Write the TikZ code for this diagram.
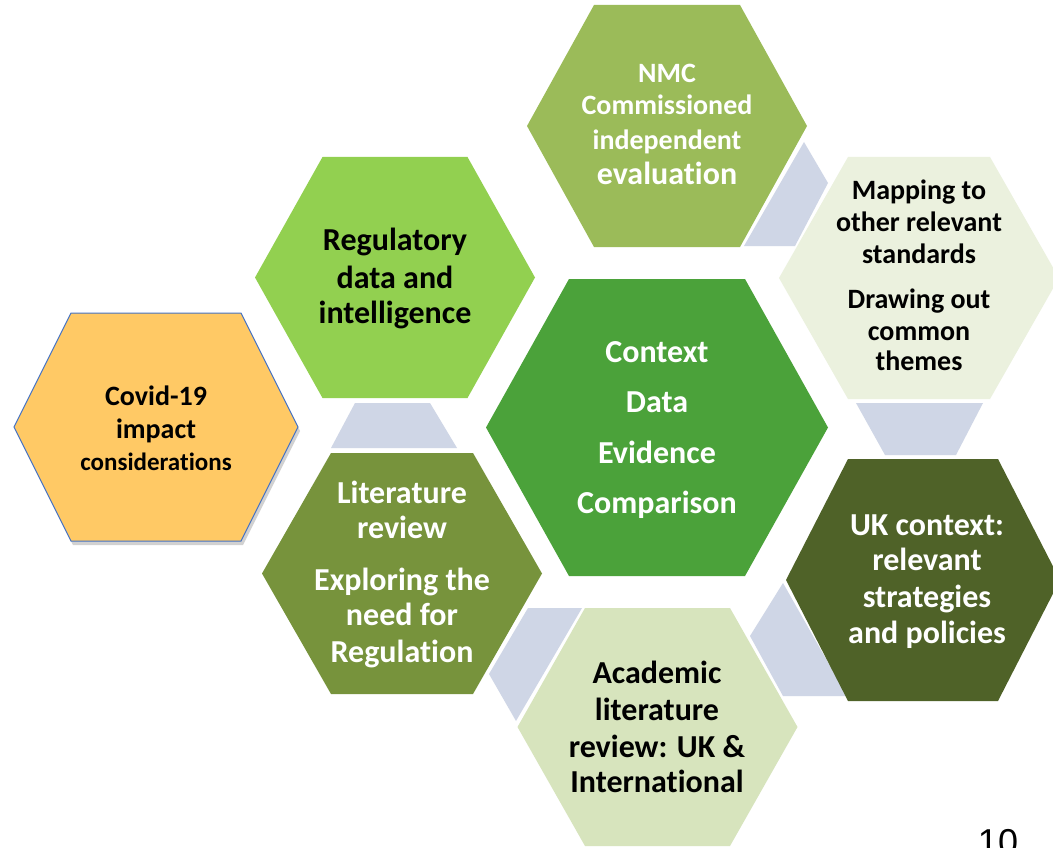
\documentclass[tikz,border=0pt]{standalone}
\usepackage{fontspec}
\setmainfont{Carlito}[Ligatures={NoCommon}]
\newfontfamily\arialfont{Liberation Sans}
\definecolor{covidc}{HTML}{FFC965}
\definecolor{covidb}{HTML}{4472C4}
\definecolor{nmcc}{HTML}{9BBB59}
\definecolor{regc}{HTML}{92D050}
\definecolor{centc}{HTML}{4BA23A}
\definecolor{mapc}{HTML}{EBF1DE}
\definecolor{ukc}{HTML}{4F6228}
\definecolor{litc}{HTML}{77933C}
\definecolor{acac}{HTML}{D7E4BD}
\definecolor{conc}{HTML}{CFD6E6}
\newcommand{\hexat}[5]{(#1-#3,#2) -- (#1-#4,#2-#5) -- (#1+#4,#2-#5) -- (#1+#3,#2) -- (#1+#4,#2+#5) -- (#1-#4,#2+#5) -- cycle}
\begin{document}
\begin{tikzpicture}[x=1pt,y=-1pt,
  tl/.style={anchor=base,inner sep=0pt,font=\bfseries\fontsize{#1}{#1}\selectfont},
  wt/.style={tl=#1,text=white},
  bt/.style={tl=#1,text=black},
  conn/.style={fill=conc}]
\useasboundingbox (0,0) rectangle (1053,848);
\clip (0,0) rectangle (1053,848);
\fill[white] (0,0) rectangle (1053,848);
% connectors
\fill[conn] (804,142) -- (828,183) -- (795,246) -- (744,246) -- cycle;
\fill[conn] (856,403) -- (983,403) -- (956,455) -- (885,455) -- cycle;
\fill[conn] (355,403) -- (430,403) -- (457,448) -- (331,448) -- cycle;
\fill[conn] (783,583) -- (847,696) -- (783,696) -- (750,636) -- cycle;
\fill[conn] (528,608) -- (582,608) -- (516,721) -- (489,674) -- cycle;
% hexagons
\fill[black,opacity=0.18] [shift={(2,4)}] \hexat{156}{427}{142}{85}{114};
\filldraw[fill=covidc,draw=covidb,line width=1pt] \hexat{156}{427}{142}{85}{114};
\fill[nmcc] \hexat{667}{126}{140}{73}{121};
\fill[regc] \hexat{395}{277.5}{140}{72.5}{120.5};
\fill[litc] \hexat{402}{573.5}{140}{71}{120.5};
\fill[centc] \hexat{657}{427.5}{171}{88}{148.5};
\fill[mapc] \hexat{919}{278}{140}{71}{121};
\fill[ukc] \hexat{923}{580}{137}{75}{121};
\fill[acac] \hexat{657.5}{727}{140}{72.5}{119};
% texts
\node[bt=28] (cov1) at (156,405) {Covid-19};
\node[bt=28] (cov2) at (156,438) {impact};
\node[bt=25] (cov3) at (156,470) {considerations};
\node[wt=28] (nmc1) at (667,83) {NMC};
\node[wt=28] (nmc2) at (667,115) {Commissioned};
\node[wt=28] (nmc3) at (667,150) {independent};
\node[wt=32] (nmc4) at (667,185) {evaluation};
\node[bt=32] (reg1) at (395,250) {Regulatory};
\node[bt=32] (reg2) at (395,288) {data and};
\node[bt=32] (reg3) at (395,323) {intelligence};
\node[bt=28] (map1) at (919,200) {Mapping to};
\node[bt=28] (map2) at (919,232) {other relevant};
\node[bt=28] (map3) at (919,263) {standards};
\node[bt=28] (map4) at (919,308) {Drawing out};
\node[bt=28] (map5) at (919,340) {common};
\node[bt=28] (map6) at (919,370) {themes};
\node[wt=32] (cen1) at (657,362) {Context};
\node[wt=32] (cen2) at (657,412) {Data};
\node[wt=32] (cen3) at (657,463) {Evidence};
\node[wt=32] (cen4) at (657,513) {Comparison};
\node[wt=32] (uk1) at (927,535) {UK context:};
\node[wt=32] (uk2) at (927,570) {relevant};
\node[wt=32] (uk3) at (927,607) {strategies};
\node[wt=32] (uk4) at (927,643) {and policies};
\node[wt=32] (lit1) at (402,503) {Literature};
\node[wt=32] (lit2) at (402,538) {review};
\node[wt=32] (lit3) at (402,590) {Exploring the};
\node[wt=32] (lit4) at (402,625) {need for};
\node[wt=32] (lit5) at (402,662) {Regulation};
\node[bt=32] (aca1) at (657,683) {Academic};
\node[bt=32] (aca2) at (657,720) {literature};
\node[bt=32] (aca3) at (657,757) {review: UK \&};
\node[bt=32] (aca4) at (657,792) {International};
\node[anchor=base,inner sep=0pt,font=\arialfont\fontsize{36}{36}\selectfont] (pg) at (998,854) {10};
\end{tikzpicture}
\end{document}
